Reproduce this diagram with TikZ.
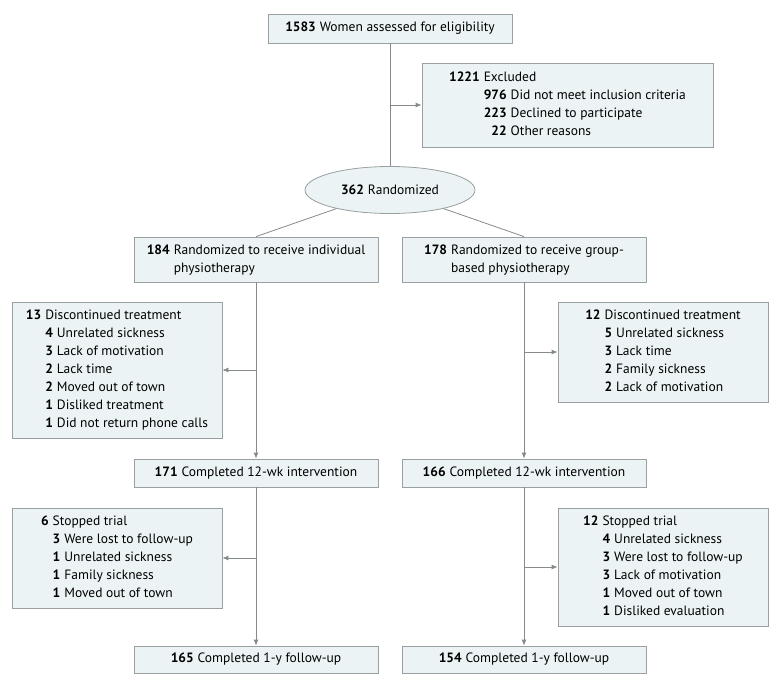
\documentclass[tikz,border=0pt]{standalone}
\usepackage{fontspec}
\setmainfont{PT Sans}
\usetikzlibrary{shapes.geometric,arrows.meta}
\definecolor{boxfill}{HTML}{EBF3F4}
\definecolor{boxline}{HTML}{9A9FA1}
\definecolor{linkline}{HTML}{858A8C}
\newcommand{\lst}[1]{\begin{tabular}{@{}r@{\hspace{4pt}}r@{\hspace{4pt}}l@{}}#1\end{tabular}}
\newcommand{\two}[1]{\begin{tabular}{@{}r@{\hspace{4pt}}l@{}}#1\end{tabular}}
\begin{document}
\begin{tikzpicture}[x=1pt, y=-1pt,
  box/.style={rectangle, draw=boxline, fill=boxfill, line width=0.8pt, inner sep=0pt, font=\fontsize{13.5}{18}\selectfont},
  link/.style={draw=linkline, line width=0.8pt},
  arr/.style={link, -{Latex[length=6pt,width=5pt]}, color=linkline}]
\useasboundingbox (0,0) rectangle (780,686);
\node[box, minimum width=244pt, minimum height=29pt] (tid0) at (390,28.5){\textbf{1583}\hspace{4pt}Women assessed for eligibility};
\node[box, minimum width=291pt, minimum height=84pt] (tid1) at (567.5,105){\lst{\textbf{1221} & \multicolumn{2}{@{}l@{}}{Excluded}\\
 & \textbf{976} & Did not meet inclusion criteria\\
 & \textbf{223} & Declined to participate\\
 & \textbf{22} & Other reasons}};
\node[box, ellipse, minimum width=170pt, minimum height=47pt] (tid2) at (390,190){\textbf{362}\hspace{4pt}Randomized};
\coordinate (c0) at (390,105);
\draw[link](tid0) -- (tid2);
\draw[arr](c0) -- (tid1);
\node[box, minimum width=244pt, minimum height=45pt] (tid3) at (256,259.5){\two{\textbf{184} & Randomized to receive individual\\ & physiotherapy}};
\node[box, minimum width=244pt, minimum height=45pt] (tid4) at (524,259.5){\two{\textbf{178} & Randomized to receive group-\\ & based physiotherapy}};
\draw[link](tid2) -- (tid3.north);
\draw[link](tid2) -- (tid4.north);
\node[box, minimum width=210pt, minimum height=136pt] (tid5) at (117,370){\lst{\textbf{13} & \multicolumn{2}{@{}l@{}}{Discontinued treatment}\\
 & \textbf{4} & Unrelated sickness\\
 & \textbf{3} & Lack of motivation\\
 & \textbf{2} & Lack time\\
 & \textbf{2} & Moved out of town\\
 & \textbf{1} & Disliked treatment\\
 & \textbf{1} & Did not return phone calls}};
\node[box, minimum width=210pt, minimum height=100pt] (tid6) at (663,352){\lst{\textbf{12} & \multicolumn{2}{@{}l@{}}{Discontinued treatment}\\
 & \textbf{5} & Unrelated sickness\\
 & \textbf{3} & Lack time\\
 & \textbf{2} & Family sickness\\
 & \textbf{2} & Lack of motivation}};
\node[box, minimum width=244pt, minimum height=28pt] (tid7) at (256,473){\textbf{171}\hspace{4pt}Completed 12-wk intervention};
\node[box, minimum width=244pt, minimum height=28pt] (tid8) at (524,473){\textbf{166}\hspace{4pt}Completed 12-wk intervention};
\coordinate (c1) at (256,370);
\coordinate (c2) at (524,352);
\draw[arr](tid3) -- (tid7);
\draw[arr](tid4) -- (tid8);
\draw[arr](c1) -- (tid5);
\draw[arr](c2) -- (tid6);
\node[box, minimum width=210pt, minimum height=100pt] (tid9) at (117,558){\lst{\textbf{6} & \multicolumn{2}{@{}l@{}}{Stopped trial}\\
 & \textbf{3} & Were lost to follow-up\\
 & \textbf{1} & Unrelated sickness\\
 & \textbf{1} & Family sickness\\
 & \textbf{1} & Moved out of town}};
\node[box, minimum width=210pt, minimum height=118pt] (tid10) at (663,567){\lst{\textbf{12} & \multicolumn{2}{@{}l@{}}{Stopped trial}\\
 & \textbf{4} & Unrelated sickness\\
 & \textbf{3} & Were lost to follow-up\\
 & \textbf{3} & Lack of motivation\\
 & \textbf{1} & Moved out of town\\
 & \textbf{1} & Disliked evaluation}};
\node[box, minimum width=244pt, minimum height=27pt] (tid11) at (256,659.5){\textbf{165}\hspace{4pt}Completed 1-y follow-up};
\node[box, minimum width=244pt, minimum height=27pt] (tid12) at (524,659.5){\textbf{154}\hspace{4pt}Completed 1-y follow-up};
\coordinate (c3) at (256,558);
\coordinate (c4) at (524,567);
\draw[arr](tid7) -- (tid11);
\draw[arr](tid8) -- (tid12);
\draw[arr](c3) -- (tid9);
\draw[arr](c4) -- (tid10);

\end{tikzpicture}
\end{document}
